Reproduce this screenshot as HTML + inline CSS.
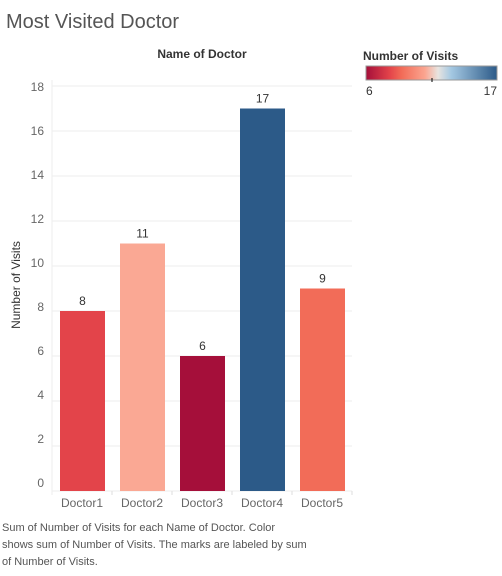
<!DOCTYPE html>
<html><head><style>
body{margin:0;background:#fff;font-family:"Liberation Sans",sans-serif;}
</style></head><body>
<svg width="502" height="571" xmlns="http://www.w3.org/2000/svg">
<defs><linearGradient id="g" x1="0" x2="1">
<stop offset="0" stop-color="#a50f3a"/><stop offset="0.18" stop-color="#e3434a"/><stop offset="0.27" stop-color="#f26b57"/><stop offset="0.45" stop-color="#fba590"/><stop offset="0.55" stop-color="#e8e4e0"/><stop offset="0.65" stop-color="#a4c8e2"/><stop offset="1" stop-color="#2c5a88"/></linearGradient></defs>
<text x="6" y="28" font-size="20" fill="#555">Most Visited Doctor</text>
<text x="202" y="58" font-size="12" font-weight="bold" fill="#333" text-anchor="middle">Name of Doctor</text>
<text transform="translate(20,285) rotate(-90)" font-size="12" fill="#333" text-anchor="middle">Number of Visits</text>
<g id="grid"></g><g id="bars"></g><g id="xt"></g>
<text x="363" y="60" font-size="12" font-weight="bold" fill="#333">Number of Visits</text>
<rect x="366" y="66" width="131" height="14" fill="url(#g)" stroke="#999"/>
<line x1="432" y1="78" x2="432" y2="82" stroke="#000"/>
<text x="366" y="95" font-size="12" fill="#333">6</text>
<text x="497" y="95" font-size="12" fill="#333" text-anchor="end">17</text>
<text font-size="11" fill="#555"><tspan x="2" y="531">Sum of Number of Visits for each Name of Doctor.  Color</tspan><tspan x="2" y="548">shows sum of Number of Visits.  The marks are labeled by sum</tspan><tspan x="2" y="565">of Number of Visits.</tspan></text>
</svg>
<script>
const categories=["Doctor1","Doctor2","Doctor3","Doctor4","Doctor5"];
const values=[8,11,6,17,9];
const ticks=[0,2,4,6,8,10,12,14,16,18];
const NS="http://www.w3.org/2000/svg";
const y=v=>491-v*22.5;
const x=i=>52+i*60;
function col(v){const t=(v-6)/11;const stops=[[0,[165,15,58]],[0.18,[227,67,74]],[0.27,[242,107,87]],[0.45,[251,165,144]],[0.55,[232,228,224]],[0.65,[164,200,226]],[1,[44,90,136]]];
for(let k=1;k<stops.length;k++){if(t<=stops[k][0]+1e-9){const a=stops[k-1],b=stops[k],f=(t-a[0])/(b[0]-a[0]);return 'rgb('+a[1].map((c,j)=>Math.round(c+(b[1][j]-c)*f)).join(',')+')';}}return 'rgb(44,90,136)';}
function mk(tag,attrs,parent){const e=document.createElementNS(NS,tag);for(const k in attrs)e.setAttribute(k,attrs[k]);document.getElementById(parent).appendChild(e);return e;}
ticks.forEach(t=>{
const l=mk('line',{x1:52,x2:352,y1:y(t),y2:y(t),stroke:'#eee'},'grid');


const tx=mk('text',{x:44,y:87+(18-t)*22+4,'font-size':12,fill:'#666','text-anchor':'end'},'grid');tx.textContent=t;


});
mk('line',{x1:52,x2:52,y1:80,y2:495,stroke:'#eee'},'grid');
categories.forEach((c,i)=>{
const v=values[i];
const r=mk('rect',{x:x(i)+8,y:y(v),width:45,height:491-y(v),fill:col(v)},'bars');


const lb=mk('text',{x:x(i)+30.5,y:y(v)-6,'font-size':12,fill:'#333','text-anchor':'middle'},'bars');lb.textContent=v;


const xt=mk('text',{x:x(i)+30,y:507,'font-size':12,fill:'#666','text-anchor':'middle'},'xt');xt.textContent=c;


mk('line',{x1:x(i)+60,x2:x(i)+60,y1:491,y2:495,stroke:'#ddd'},'xt');
});
</script>
</body></html>
